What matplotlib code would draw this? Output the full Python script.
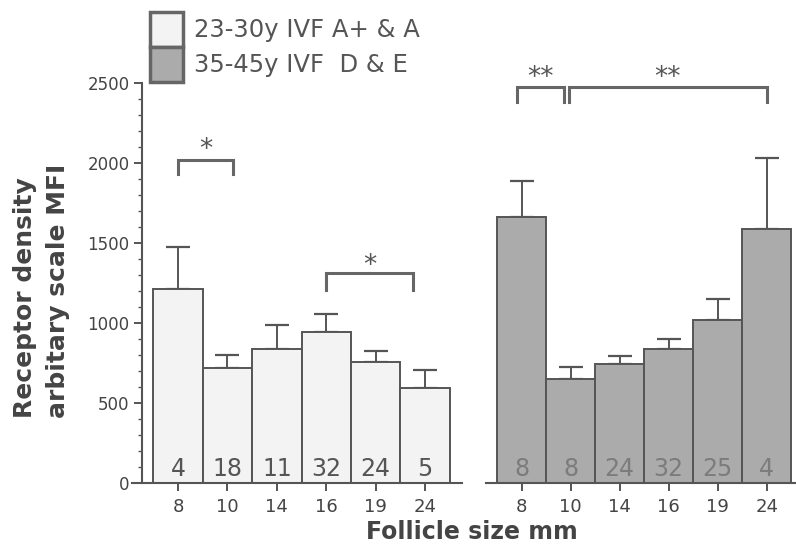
import matplotlib
matplotlib.use("Agg")
import matplotlib.pyplot as plt
from matplotlib.patches import Patch
from matplotlib.ticker import MultipleLocator

plt.rcParams['font.family'] = ['DejaVu Sans']

sizes = ["8", "10", "14", "16", "19", "24"]
young_mean = [1210, 720, 840, 945, 755, 595]
young_err = [265, 78, 150, 110, 72, 112]
young_n = ["4", "18", "11", "32", "24", "5"]
old_mean = [1665, 650, 742, 840, 1018, 1588]
old_err = [220, 78, 50, 62, 130, 445]
old_n = ["8", "8", "24", "32", "25", "4"]
legend_labels = ["23-30y IVF A+ & A", "35-45y IVF  D & E"]

W, H = 796, 555
fig = plt.figure(figsize=(W / 100, H / 100), dpi=100)

def px_axes(x0, x1, y0, y1):
    return fig.add_axes([x0 / W, (H - y0) / H, (x1 - x0) / W, (y0 - y1) / H])

edge = "#555555"
light = "#f3f3f3"
dark = "#ababab"

axL = px_axes(142, 462, 483, 83)
axR = px_axes(486, 800, 483, 83)

def draw(ax, means, errs, ns, color, ncolor, xlim):
    x = list(range(len(means)))
    ax.bar(x, means, width=1.0, color=color, edgecolor=edge, linewidth=1.4, zorder=2)
    ax.errorbar(x, means, yerr=[[0] * len(errs), errs], fmt="none", ecolor=edge,
                elinewidth=1.4, capsize=8.5, capthick=1.6, zorder=1)
    for xi, n in zip(x, ns):
        ax.text(xi, 45, n, ha="center", va="baseline", fontsize=17, color=ncolor, zorder=3)
    ax.set_xlim(*xlim)
    ax.set_ylim(0, 2500)
    ax.set_xticks(x)
    ax.set_xticklabels(sizes, fontsize=13, color="#444444")
    ax.tick_params(axis="x", direction="out", length=6, width=1.4, color=edge, pad=5)
    for s in ["top", "right"]:
        ax.spines[s].set_visible(False)
    ax.spines["bottom"].set_color(edge)
    ax.spines["bottom"].set_linewidth(1.5)
    ax.patch.set_visible(False)

draw(axL, young_mean, young_err, young_n, light, "#555555", (-0.73, 5.75))
draw(axR, old_mean, old_err, old_n, dark, "#7c7c7c", (-0.73, 5.68))

axL.spines["left"].set_color(edge)
axL.spines["left"].set_linewidth(1.5)
axL.set_yticks([0, 500, 1000, 1500, 2000, 2500])
axL.yaxis.set_minor_locator(MultipleLocator(100))
axL.tick_params(axis="y", which="major", direction="out", length=6, width=1.4,
                color=edge, labelsize=12, labelcolor="#444444", pad=3)
axL.tick_params(axis="y", which="minor", direction="out", length=3, width=1.0, color=edge)
axL.spines["bottom"].set_bounds(-0.93, 5.75)

axR.spines["left"].set_visible(False)
axR.tick_params(axis="y", left=False, labelleft=False)

def bracket(ax, x0, x1, ytop, ybot, label, ylab):
    ax.plot([x0, x0, x1, x1], [ybot, ytop, ytop, ybot], color="#666666",
            linewidth=2.2, clip_on=False, solid_joinstyle="miter")
    ax.text((x0 + x1) / 2, ylab, label, ha="center", va="center", fontsize=19,
            color="#555555", clip_on=False)

bracket(axL, 0, 1.12, 2020, 1930, "*", 2080)
bracket(axL, 3.0, 4.75, 1315, 1205, "*", 1355)
bracket(axR, -0.1, 0.86, 2477, 2383, "**", 2530)
bracket(axR, 0.96, 5.0, 2477, 2383, "**", 2530)

handles = [Patch(facecolor=light, edgecolor="#666666", linewidth=2.5),
           Patch(facecolor=dark, edgecolor="#666666", linewidth=2.5)]
fig.legend(handles, legend_labels, loc="upper left",
           bbox_to_anchor=(150 / W, 1 - 12 / H), frameon=False, fontsize=17.5,
           handlelength=1.36, handleheight=1.84, handletextpad=0.45,
           labelspacing=0.0, borderpad=0, borderaxespad=0, labelcolor="#555555")

ylab_font = dict(fontsize=18, fontweight="bold", color="#444444")
fig.text(25 / W, 1 - 418 / H, "Receptor density", rotation=90, ha="center",
         va="bottom", **ylab_font)
fig.text(58 / W, 1 - 418 / H, "arbitary scale MFI", rotation=90, ha="center",
         va="bottom", **ylab_font)
fig.text(472 / W, 1 - 532 / H, "Follicle size mm", ha="center", va="center",
         fontsize=17, fontweight="bold", color="#444444")

fig.savefig("out.png", dpi=100)
